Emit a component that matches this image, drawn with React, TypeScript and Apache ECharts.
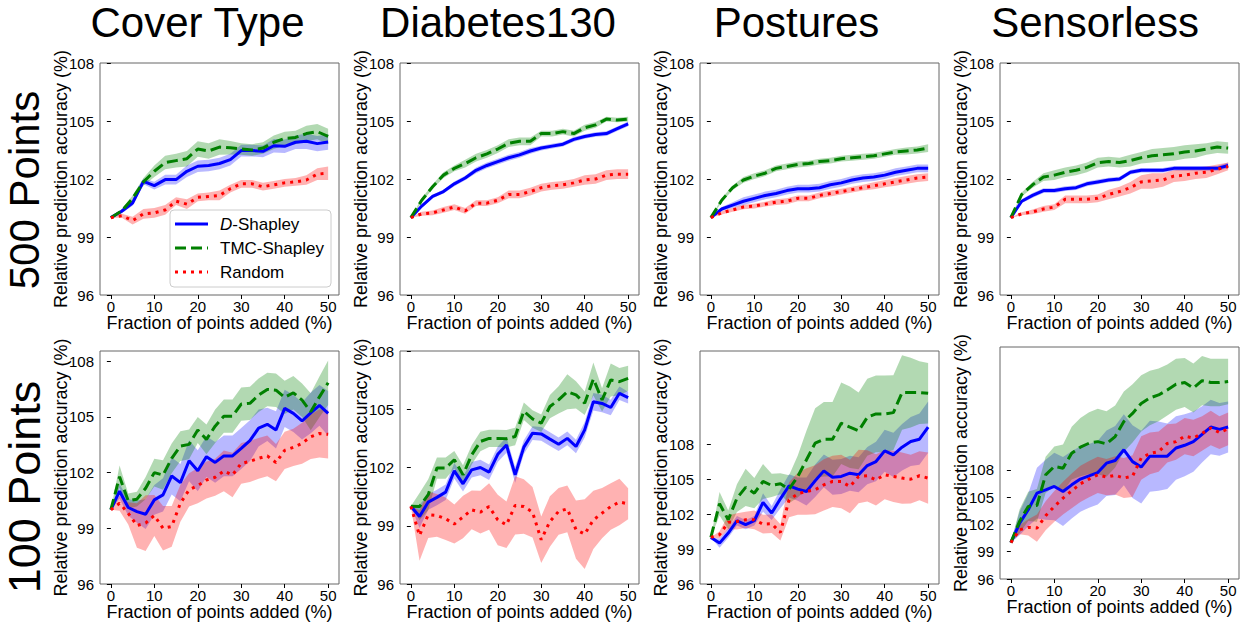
import React, { useEffect, useRef } from "react";
import * as echarts from "echarts";

const FONT = "'Liberation Sans', Arial, sans-serif";

// x positions (fraction of points added, %)
const X_TOP = [0, 2.5, 5, 7.5, 10, 12.5, 15, 17.5, 20, 22.5, 25, 27.5, 30, 32.5, 35, 37.5, 40, 42.5, 45, 47.5, 50];
const X_BOT = [0, 2, 4, 6, 8, 10, 12, 14, 16, 18, 20, 22, 24, 26, 28, 30, 32, 34, 36, 38, 40, 42, 44, 46, 48, 50];

const TITLES = ["Cover Type", "Diabetes130", "Postures", "Sensorless"];
const ROW_LABELS = ["500 Points", "100 Points"];
const SERIES_NAMES = ["D-Shapley", "TMC-Shapley", "Random"];
const Y_TICKS = [96, 99, 102, 105, 108];
const X_TICKS = [0, 10, 20, 30, 40, 50];

// ---- 500 points: Cover Type
const coverTopD = [100, 100.33, 100.76, 101.88, 101.66, 101.97, 101.97, 102.4, 102.66, 102.7, 102.8, 103.0, 103.47, 103.47, 103.43, 103.72, 103.69, 103.9, 103.95, 103.83, 103.91];
const coverTopDSd = [0, 0.1, 0.15, 0.15, 0.2, 0.25, 0.25, 0.3, 0.3, 0.3, 0.3, 0.3, 0.3, 0.3, 0.3, 0.35, 0.35, 0.35, 0.4, 0.4, 0.4];
const coverTopT = [100, 100.35, 101.0, 101.85, 102.4, 102.85, 102.95, 103.05, 103.55, 103.45, 103.65, 103.62, 103.55, 103.5, 103.6, 103.9, 104.1, 104.15, 104.35, 104.45, 104.2];
const coverTopTSd = [0, 0.1, 0.15, 0.2, 0.3, 0.35, 0.35, 0.4, 0.4, 0.4, 0.4, 0.35, 0.3, 0.3, 0.3, 0.35, 0.35, 0.35, 0.4, 0.4, 0.4];
const coverTopR = [100, 100.1, 99.85, 100.2, 100.25, 100.4, 100.85, 100.7, 101.05, 101.1, 101.15, 101.5, 101.75, 101.75, 101.6, 101.7, 101.8, 101.85, 101.95, 102.25, 102.3];
const coverTopRSd = [0, 0.1, 0.2, 0.25, 0.25, 0.25, 0.2, 0.25, 0.2, 0.2, 0.25, 0.2, 0.2, 0.2, 0.2, 0.2, 0.2, 0.2, 0.25, 0.3, 0.35];

// ---- 500 points: Diabetes130
const diabTopD = [100, 100.6, 101.1, 101.35, 101.75, 102.05, 102.45, 102.7, 102.9, 103.1, 103.25, 103.45, 103.6, 103.7, 103.8, 104.05, 104.2, 104.3, 104.35, 104.6, 104.85];
const diabTopDSd = [0, 0.08, 0.1, 0.1, 0.12, 0.12, 0.15, 0.15, 0.15, 0.15, 0.15, 0.15, 0.12, 0.12, 0.12, 0.12, 0.12, 0.12, 0.12, 0.12, 0.12];
const diabTopT = [100, 100.9, 101.6, 102.2, 102.55, 102.8, 103.1, 103.3, 103.55, 103.85, 103.95, 103.95, 104.35, 104.35, 104.45, 104.35, 104.65, 104.8, 105.1, 105.05, 105.1];
const diabTopTSd = [0, 0.1, 0.12, 0.15, 0.15, 0.2, 0.2, 0.2, 0.2, 0.2, 0.2, 0.2, 0.15, 0.15, 0.15, 0.15, 0.15, 0.15, 0.12, 0.12, 0.12];
const diabTopR = [100, 100.2, 100.25, 100.4, 100.55, 100.35, 100.75, 100.75, 100.9, 101.2, 101.2, 101.35, 101.55, 101.65, 101.7, 101.8, 101.95, 102.0, 102.2, 102.25, 102.25];
const diabTopRSd = [0, 0.1, 0.12, 0.15, 0.15, 0.15, 0.15, 0.15, 0.15, 0.2, 0.2, 0.2, 0.2, 0.2, 0.2, 0.2, 0.25, 0.25, 0.25, 0.25, 0.25];

// ---- 500 points: Postures
const postTopD = [100, 100.45, 100.65, 100.85, 101.0, 101.15, 101.25, 101.4, 101.5, 101.5, 101.55, 101.7, 101.8, 101.95, 102.05, 102.1, 102.2, 102.35, 102.45, 102.55, 102.55];
const postTopDSd = [0, 0.1, 0.15, 0.2, 0.2, 0.2, 0.2, 0.2, 0.2, 0.2, 0.2, 0.2, 0.2, 0.2, 0.2, 0.2, 0.2, 0.2, 0.2, 0.2, 0.2];
const postTopT = [100, 100.9, 101.55, 101.95, 102.15, 102.3, 102.55, 102.65, 102.75, 102.8, 102.9, 102.95, 103.05, 103.1, 103.15, 103.2, 103.3, 103.4, 103.45, 103.5, 103.6];
const postTopTSd = [0, 0.1, 0.12, 0.15, 0.15, 0.15, 0.15, 0.15, 0.15, 0.15, 0.15, 0.15, 0.15, 0.15, 0.15, 0.15, 0.15, 0.15, 0.18, 0.18, 0.2];
const postTopR = [100, 100.25, 100.4, 100.55, 100.6, 100.7, 100.8, 100.85, 101.0, 101.0, 101.15, 101.25, 101.35, 101.45, 101.55, 101.65, 101.75, 101.85, 101.95, 102.05, 102.1];
const postTopRSd = [0, 0.08, 0.1, 0.12, 0.12, 0.12, 0.15, 0.15, 0.15, 0.15, 0.15, 0.15, 0.15, 0.15, 0.15, 0.18, 0.18, 0.2, 0.2, 0.2, 0.2];

// ---- 500 points: Sensorless
const sensTopD = [100, 100.85, 101.15, 101.4, 101.4, 101.5, 101.55, 101.75, 101.85, 101.95, 102.0, 102.35, 102.45, 102.45, 102.45, 102.55, 102.55, 102.55, 102.55, 102.55, 102.7];
const sensTopDSd = [0, 0.1, 0.12, 0.12, 0.12, 0.12, 0.12, 0.12, 0.12, 0.12, 0.12, 0.12, 0.12, 0.12, 0.12, 0.12, 0.12, 0.12, 0.12, 0.12, 0.15];
const sensTopT = [100, 101.2, 101.7, 102.1, 102.2, 102.35, 102.45, 102.6, 102.85, 102.9, 102.85, 102.95, 103.1, 103.2, 103.25, 103.3, 103.4, 103.45, 103.55, 103.65, 103.6];
const sensTopTSd = [0, 0.1, 0.15, 0.2, 0.25, 0.25, 0.25, 0.25, 0.25, 0.25, 0.25, 0.3, 0.3, 0.35, 0.35, 0.35, 0.35, 0.35, 0.3, 0.3, 0.3];
const sensTopR = [100, 100.2, 100.3, 100.45, 100.55, 100.95, 100.95, 100.95, 101.0, 101.2, 101.35, 101.55, 101.85, 101.9, 101.95, 102.15, 102.2, 102.3, 102.35, 102.5, 102.65];
const sensTopRSd = [0, 0.08, 0.12, 0.15, 0.15, 0.2, 0.2, 0.2, 0.2, 0.25, 0.25, 0.3, 0.35, 0.4, 0.35, 0.3, 0.3, 0.3, 0.3, 0.25, 0.2];

// ---- 100 points: Cover Type
const coverBotD = [100, 101.0, 100.12, 99.9, 99.76, 100.53, 100.8, 101.82, 101.46, 102.64, 102.1, 102.86, 102.55, 102.9, 102.9, 103.3, 103.72, 104.4, 104.6, 104.3, 105.46, 105.19, 104.78, 105.22, 105.62, 105.19];
const coverBotDSd = [0, 0.4, 0.45, 0.6, 0.8, 0.8, 0.9, 1.0, 1.0, 1.1, 1.1, 1.1, 1.1, 1.1, 1.1, 1.1, 1.1, 1.0, 0.9, 1.0, 1.0, 1.0, 1.0, 1.1, 1.1, 1.2];
const coverBotT = [100, 101.78, 100.48, 100.57, 101.16, 102.0, 101.87, 102.77, 103.43, 103.52, 104.29, 103.79, 104.5, 105.04, 105.04, 105.69, 105.73, 106.17, 106.48, 106.44, 106.05, 106.3, 105.9, 105.28, 106.08, 106.84];
const coverBotTSd = [0, 0.6, 0.4, 0.4, 0.6, 0.75, 0.8, 0.8, 0.8, 0.8, 0.7, 0.8, 0.9, 0.9, 0.9, 0.9, 0.9, 0.9, 0.9, 0.9, 0.9, 0.9, 0.9, 1.0, 1.1, 1.2];
const coverBotR = [100, 100.35, 99.81, 99.15, 99.28, 99.69, 99.0, 99.1, 100.35, 101.07, 101.3, 101.6, 101.75, 102.09, 101.87, 102.5, 102.6, 102.77, 102.9, 102.54, 103.2, 103.36, 103.58, 103.93, 104.11, 104.06];
const coverBotRSd = [0, 0.4, 0.6, 1.2, 1.5, 1.1, 1.2, 1.1, 1.0, 0.9, 0.95, 1.0, 1.0, 1.1, 1.2, 1.1, 1.1, 1.1, 1.1, 1.0, 1.0, 1.0, 1.1, 1.2, 1.3, 1.3];

// ---- 100 points: Diabetes130
const diabBotD = [100, 99.48, 100.22, 100.46, 100.73, 101.83, 101.16, 101.88, 102.0, 101.76, 102.68, 103.16, 101.62, 103.05, 103.77, 103.73, 103.46, 103.2, 103.5, 103.08, 103.94, 105.39, 105.3, 105.09, 105.82, 105.6];
const diabBotDSd = [0, 0.6, 0.4, 0.4, 0.4, 0.4, 0.4, 0.4, 0.4, 0.4, 0.4, 0.4, 0.4, 0.35, 0.35, 0.35, 0.35, 0.35, 0.35, 0.35, 0.4, 0.45, 0.45, 0.4, 0.35, 0.3];
const diabBotT = [100, 99.99, 100.6, 101.97, 101.97, 102.4, 101.62, 102.65, 103.34, 103.5, 103.5, 103.48, 103.6, 104.9, 104.5, 104.28, 105.14, 105.48, 105.9, 105.74, 105.31, 106.56, 105.48, 106.51, 106.42, 106.59];
const diabBotTSd = [0, 0.7, 0.8, 0.55, 0.55, 0.45, 0.5, 0.5, 0.5, 0.45, 0.45, 0.45, 0.45, 0.45, 0.45, 0.45, 0.6, 0.7, 0.9, 0.7, 0.6, 0.85, 0.6, 0.85, 0.7, 0.65];
const diabBotR = [100, 98.5, 99.57, 99.53, 99.36, 99.09, 99.45, 99.82, 99.7, 99.99, 99.3, 99.05, 100.05, 99.99, 99.7, 98.28, 99.22, 99.74, 99.87, 98.8, 98.57, 99.3, 99.65, 99.99, 100.22, 100.13];
const diabBotRSd = [0, 1.3, 1.2, 1.1, 1.1, 1.0, 1.1, 1.0, 1.1, 1.2, 1.3, 1.2, 1.5, 1.4, 1.3, 1.2, 1.3, 1.2, 1.2, 1.5, 1.8, 1.5, 1.3, 1.2, 1.2, 0.8];

// ---- 100 points: Postures
const postBotD = [100, 99.51, 100.37, 101.43, 101.09, 101.43, 103.0, 102.09, 103.31, 104.43, 104.14, 103.94, 104.86, 105.71, 105.17, 105.23, 105.51, 105.37, 106.17, 106.51, 107.43, 107.09, 107.74, 108.23, 108.43, 109.46];
const postBotDSd = [0, 0.4, 0.4, 0.4, 0.4, 0.4, 0.8, 0.6, 0.8, 1.0, 1.0, 1.2, 1.4, 1.4, 1.5, 1.5, 1.5, 1.5, 1.6, 1.7, 1.8, 1.9, 2.0, 2.1, 2.2, 2.2];
const postBotT = [100, 102.89, 101.51, 103.37, 104.29, 103.8, 104.8, 104.46, 104.6, 104.14, 105.23, 106.66, 108.09, 108.43, 108.43, 109.8, 109.46, 109.14, 110.31, 110.6, 110.6, 110.71, 112.43, 112.43, 112.43, 112.37];
const postBotTSd = [0, 1.0, 0.8, 1.2, 1.6, 1.3, 1.5, 1.0, 0.9, 1.2, 1.8, 2.5, 3.0, 3.2, 3.2, 3.5, 3.5, 3.3, 3.3, 3.3, 3.3, 3.2, 3.2, 3.0, 2.7, 2.6];
const postBotR = [100, 100.23, 101.29, 101.37, 101.51, 101.51, 101.14, 101.17, 100.43, 103.23, 103.74, 103.94, 104.09, 104.51, 104.8, 104.8, 104.37, 105.23, 105.29, 104.94, 105.37, 105.23, 105.09, 105.0, 105.29, 105.09];
const postBotRSd = [0, 0.3, 0.6, 0.7, 0.7, 0.8, 0.8, 0.8, 0.7, 1.5, 1.8, 2.0, 2.1, 2.2, 2.2, 2.3, 2.3, 2.3, 2.2, 2.2, 2.1, 2.2, 2.2, 2.1, 2.1, 2.2];

// ---- 100 points: Sensorless
const sensBotD = [100, 102.1, 103.61, 105.44, 105.8, 106.17, 105.62, 106.35, 106.98, 107.34, 107.7, 108.73, 109.02, 110.2, 108.9, 108.3, 109.5, 109.5, 109.5, 110.4, 110.7, 111.1, 111.9, 112.7, 112.45, 112.7];
const sensBotDSd = [0, 1.3, 1.8, 2.8, 3.3, 3.7, 3.8, 3.7, 3.6, 3.5, 3.5, 3.6, 3.8, 3.9, 4.0, 4.0, 3.9, 3.8, 3.6, 3.5, 3.4, 3.3, 3.1, 3.0, 2.9, 2.8];
const sensBotT = [100, 102.33, 103.98, 104.09, 107.45, 108.37, 108.18, 109.83, 110.49, 110.93, 111.1, 110.85, 111.66, 113.3, 114.2, 115.3, 115.9, 116.23, 116.78, 117.4, 117.6, 117.0, 117.8, 117.6, 117.6, 117.7];
const sensBotTSd = [0, 1.3, 1.6, 1.8, 2.0, 2.2, 2.6, 2.9, 3.2, 3.4, 3.6, 3.6, 3.4, 3.3, 3.2, 3.1, 3.0, 2.9, 2.8, 2.8, 2.7, 2.7, 2.7, 2.6, 2.6, 2.5];
const sensBotR = [100, 101.41, 101.67, 101.6, 102.95, 103.98, 104.89, 105.69, 106.46, 106.98, 107.45, 107.2, 107.4, 107.1, 107.3, 109.3, 109.8, 110.0, 110.9, 111.1, 111.7, 111.5, 112.0, 112.6, 112.1, 112.5];
const sensBotRSd = [0, 0.5, 0.9, 1.5, 1.6, 1.7, 1.8, 1.9, 2.0, 2.0, 2.0, 2.0, 2.1, 2.2, 2.3, 2.4, 2.3, 2.2, 2.1, 2.0, 2.0, 2.0, 1.9, 1.9, 1.8, 1.8];

const PANELS = [
  { x: X_TOP, m: [coverTopD, coverTopT, coverTopR], s: [coverTopDSd, coverTopTSd, coverTopRSd], yMax: 108 },
  { x: X_TOP, m: [diabTopD, diabTopT, diabTopR], s: [diabTopDSd, diabTopTSd, diabTopRSd], yMax: 108 },
  { x: X_TOP, m: [postTopD, postTopT, postTopR], s: [postTopDSd, postTopTSd, postTopRSd], yMax: 108 },
  { x: X_TOP, m: [sensTopD, sensTopT, sensTopR], s: [sensTopDSd, sensTopTSd, sensTopRSd], yMax: 108 },
  { x: X_BOT, m: [coverBotD, coverBotT, coverBotR], s: [coverBotDSd, coverBotTSd, coverBotRSd], yMax: 108.55 },
  { x: X_BOT, m: [diabBotD, diabBotT, diabBotR], s: [diabBotDSd, diabBotTSd, diabBotRSd], yMax: 108 },
  { x: X_BOT, m: [postBotD, postBotT, postBotR], s: [postBotDSd, postBotTSd, postBotRSd], yMax: 116 },
  { x: X_BOT, m: [sensBotD, sensBotT, sensBotR], s: [sensBotDSd, sensBotTSd, sensBotRSd], yMax: 121.5 },
];

const GRIDS = [
  { left: 100, top: 63, width: 239, height: 232 },
  { left: 400, top: 63, width: 239, height: 232 },
  { left: 700, top: 63, width: 239, height: 232 },
  { left: 1000, top: 63, width: 239, height: 232 },
  { left: 100, top: 351, width: 239, height: 233 },
  { left: 400, top: 351, width: 239, height: 233 },
  { left: 700, top: 351, width: 239, height: 233 },
  { left: 1000, top: 347, width: 239, height: 232 },
];

const LINE_COLORS = ["#0000ff", "#008000", "#ff0000"];
const BAND_COLORS = ["rgba(0,0,255,0.28)", "rgba(0,128,0,0.3)", "rgba(255,0,0,0.3)"];
const LINE_DASH: any[] = [null, [11, 5], [3, 5]];
const LINE_TYPES: any[] = ["solid", [11, 5], [3, 5]];

function buildOption() {
  const series: any[] = [];
  PANELS.forEach((p, pi) => {
    p.m.forEach((mean, k) => {
      const sd = p.s[k];
      const bandData = p.x.map((x, i) => [x, mean[i] - sd[i], mean[i] + sd[i]]);
      series.push({
        type: "custom",
        xAxisIndex: pi,
        yAxisIndex: pi,
        silent: true,
        clip: true,
        z: 1,
        encode: { x: 0, y: [1, 2] },
        data: bandData,
        renderItem: (params: any, api: any) => {
          if (params.dataIndex !== 0) return null;
          const upper = bandData.map((d) => api.coord([d[0], d[2]]));
          const lower = bandData.map((d) => api.coord([d[0], d[1]])).reverse();
          return {
            type: "polygon",
            shape: { points: upper.concat(lower) },
            style: { fill: BAND_COLORS[k], stroke: "none" },
          };
        },
      });
    });
    p.m.forEach((mean, k) => {
      series.push({
        type: "line",
        name: SERIES_NAMES[k],
        xAxisIndex: pi,
        yAxisIndex: pi,
        symbol: "none",
        z: 3,
        itemStyle: { color: LINE_COLORS[k] },
        lineStyle: { color: LINE_COLORS[k], width: 3, type: LINE_TYPES[k], cap: "butt" },
        data: p.x.map((x, i) => [x, mean[i]]),
      });
    });
  });

  const grid = GRIDS.map((g) => ({
    ...g,
    show: true,
    borderColor: "#666",
    borderWidth: 1,
    backgroundColor: "transparent",
    containLabel: false,
  }));

  const xAxis = GRIDS.map((_, i) => ({
    type: "value",
    gridIndex: i,
    min: -2.5,
    max: 52.5,
    axisLine: { show: false },
    splitLine: { show: false },
    axisTick: { show: true, length: 4, lineStyle: { color: "#000" }, customValues: X_TICKS },
    axisLabel: { fontSize: 15, color: "#000", fontFamily: FONT, margin: 4, customValues: X_TICKS },
    name: "Fraction of points added (%)",
    nameLocation: "middle",
    nameGap: 19,
    nameMoveOverlap: false,
    nameTextStyle: { fontSize: 18, color: "#000", fontFamily: FONT },
  }));

  const yAxis = PANELS.map((p, i) => ({
    type: "value",
    gridIndex: i,
    min: 96,
    max: p.yMax,
    axisLine: { show: false },
    splitLine: { show: false },
    axisTick: { show: true, length: 4, lineStyle: { color: "#000" }, customValues: Y_TICKS },
    axisLabel: { fontSize: 15, color: "#000", fontFamily: FONT, margin: 6, customValues: Y_TICKS },
    name: "Relative prediction accuracy (%)",
    nameLocation: "middle",
    nameGap: 30,
    nameMoveOverlap: false,
    nameTextStyle: { fontSize: 18, color: "#000", fontFamily: FONT },
  }));

  const titleCenters = [197.5, 498, 796.5, 1095];
  const graphic: any[] = TITLES.map((t, i) => ({
    type: "text",
    x: titleCenters[i],
    y: 22,
    style: { text: t, fontSize: 42, fontFamily: FONT, fill: "#000", align: "center", verticalAlign: "middle" },
  }));
  graphic.push({
    type: "text",
    x: 24,
    y: 190,
    rotation: Math.PI / 2,
    style: { text: ROW_LABELS[0], fontSize: 42, fontFamily: FONT, fill: "#000", align: "center", verticalAlign: "middle" },
  });
  graphic.push({
    type: "text",
    x: 24,
    y: 487,
    rotation: Math.PI / 2,
    style: { text: ROW_LABELS[1], fontSize: 45, fontFamily: FONT, fill: "#000", align: "center", verticalAlign: "middle" },
  });

  // legend (drawn in the first panel)
  const lgX = 170;
  const lgY = 210;
  const rows = [224, 248, 272];
  graphic.push({
    type: "rect",
    shape: { x: lgX, y: lgY, width: 161, height: 77, r: 4 },
    style: { fill: "rgba(255,255,255,0.85)", stroke: "#cccccc", lineWidth: 1 },
    z: 10,
  });
  SERIES_NAMES.forEach((n, k) => {
    graphic.push({
      type: "line",
      shape: { x1: lgX + 5, y1: rows[k], x2: lgX + 38, y2: rows[k] },
      style: { stroke: LINE_COLORS[k], lineWidth: 3, lineDash: LINE_DASH[k], lineCap: "butt" },
      z: 11,
    });
    graphic.push({
      type: "text",
      x: lgX + 50,
      y: rows[k],
      z: 11,
      style: {
        text: n === "D-Shapley" ? "{i|D}-Shapley" : n,
        fontSize: 17,
        fontFamily: FONT,
        fill: "#000",
        verticalAlign: "middle",
        rich: { i: { fontStyle: "italic", fontSize: 17, fontFamily: FONT, fill: "#000" } },
      },
    });
  });

  return {
    animation: false,
    backgroundColor: "#fff",
    grid,
    xAxis,
    yAxis,
    series,
    graphic,
  };
}

export default function App() {
  const ref = useRef<HTMLDivElement>(null);
  useEffect(() => {
    if (!ref.current) return;
    const chart = echarts.init(ref.current, undefined, { renderer: "svg" });
    chart.setOption(buildOption() as any);
    return () => chart.dispose();
  }, []);
  return <div ref={ref} style={{ position: "fixed", left: 0, top: 0, width: 1244, height: 622 }} />;
}
